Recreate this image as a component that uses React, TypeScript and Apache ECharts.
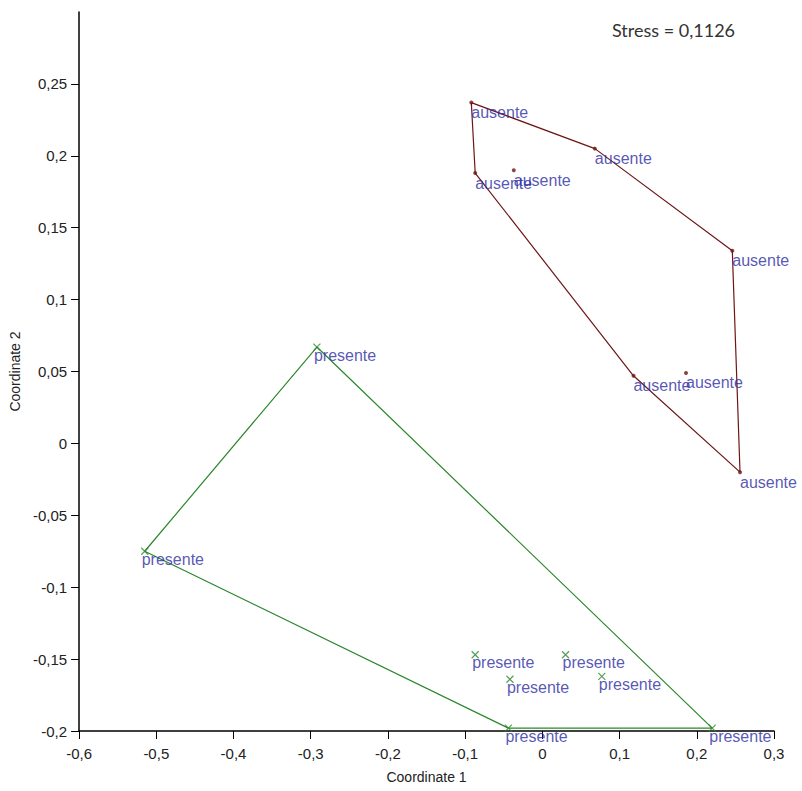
import React, { useEffect, useRef } from "react";
import * as echarts from "echarts";

// ---- data ----
const ausenteX = [-0.092, 0.068, 0.246, 0.256, 0.118, -0.087, -0.037, 0.186];
const ausenteY = [0.237, 0.205, 0.134, -0.02, 0.047, 0.188, 0.19, 0.049];
const ausenteHull = [0, 1, 2, 3, 4, 5, 0];

const presenteX = [-0.292, -0.515, -0.087, 0.03, -0.042, 0.077, -0.044, 0.22];
const presenteY = [0.067, -0.075, -0.147, -0.147, -0.164, -0.162, -0.198, -0.198];
const presenteHull = [0, 7, 6, 1, 0];

const xTicks = [-0.6, -0.5, -0.4, -0.3, -0.2, -0.1, 0, 0.1, 0.2, 0.3];
const yTicks = [-0.2, -0.15, -0.1, -0.05, 0, 0.05, 0.1, 0.15, 0.2, 0.25];

const stressText = "Stress = 0,1126";

const AUS_COLOR = "#6e1515";
const PRE_COLOR = "#2b872b";
const LABEL_COLOR = "#2c2ca2";
const FONT = "Arial, 'Liberation Sans', sans-serif";

const fmt = (v: number) => String(Math.round(v * 100) / 100).replace(".", ",");

export default function App() {
  const ref = useRef<HTMLDivElement>(null);
  useEffect(() => {
    if (!ref.current) return;
    const chart = echarts.init(ref.current, undefined, { renderer: "svg" });
    const ausPts = ausenteX.map((x, i) => [x, ausenteY[i]]);
    const prePts = presenteX.map((x, i) => [x, presenteY[i]]);
    const labelFont = { fontFamily: FONT, fontSize: 16, color: LABEL_COLOR };
    chart.setOption({
      animation: false,
      backgroundColor: "#ffffff",
      grid: { left: 79, right: 28, top: 12, bottom: 60 },
      xAxis: {
        type: "value",
        min: -0.6,
        max: 0.3,
        interval: 0.1,
        name: "Coordinate 1",
        nameLocation: "middle",
        nameGap: 39,
        nameTextStyle: { fontFamily: FONT, fontSize: 14, color: "#222" },
        splitLine: { show: false },
        axisLine: { onZero: false, lineStyle: { color: "#000", width: 1.5 } },
        axisTick: { show: true, length: 8, lineStyle: { color: "#000" }, customValues: xTicks },
        axisLabel: {
          margin: 15,
          customValues: xTicks,
          formatter: fmt,
          fontFamily: FONT,
          fontSize: 15,
          color: "#222",
        },
      },
      yAxis: {
        type: "value",
        min: -0.2,
        max: 0.3,
        interval: 0.05,
        name: "Coordinate 2",
        nameLocation: "middle",
        nameGap: 52,
        nameRotate: 90,
        nameTextStyle: { fontFamily: FONT, fontSize: 14, color: "#222" },
        splitLine: { show: false },
        axisLine: { onZero: false, lineStyle: { color: "#000", width: 1.5 } },
        axisTick: { show: true, length: 8, lineStyle: { color: "#000" }, customValues: yTicks },
        axisLabel: {
          margin: 12,
          customValues: yTicks,
          formatter: fmt,
          fontFamily: FONT,
          fontSize: 15,
          color: "#222",
        },
      },
      graphic: [
        {
          type: "text",
          left: 612,
          top: 21,
          style: { text: stressText, font: "18px Lato, 'Open Sans', sans-serif", fill: "#333" },
        },
      ],
      series: [
        {
          type: "line",
          data: ausenteHull.map((i) => ausPts[i]),
          symbol: "none",
          lineStyle: { color: AUS_COLOR, width: 1.2 },
          z: 1,
          silent: true,
        },
        {
          type: "line",
          data: presenteHull.map((i) => prePts[i]),
          symbol: "none",
          lineStyle: { color: PRE_COLOR, width: 1.2 },
          z: 1,
          silent: true,
        },
        {
          type: "scatter",
          data: ausPts,
          symbol: "circle",
          symbolSize: 4,
          itemStyle: { color: AUS_COLOR },
          label: {
            show: true,
            formatter: "ausente",
            position: [2, 4],
            align: "left",
            verticalAlign: "top",
            ...labelFont,
          },
          z: 3,
        },
        {
          type: "scatter",
          data: prePts,
          symbol: "path://M0,0L10,10M10,0L0,10",
          symbolSize: 7,
          itemStyle: { color: "none", borderColor: PRE_COLOR, borderWidth: 1.2 },
          label: {
            show: true,
            formatter: "presente",
            position: [3, 6],
            align: "left",
            verticalAlign: "top",
            ...labelFont,
          },
          z: 3,
        },
      ],
    });
    return () => chart.dispose();
  }, []);
  return <div ref={ref} style={{ position: "fixed", left: 0, top: 0, width: 802, height: 791 }} />;
}
